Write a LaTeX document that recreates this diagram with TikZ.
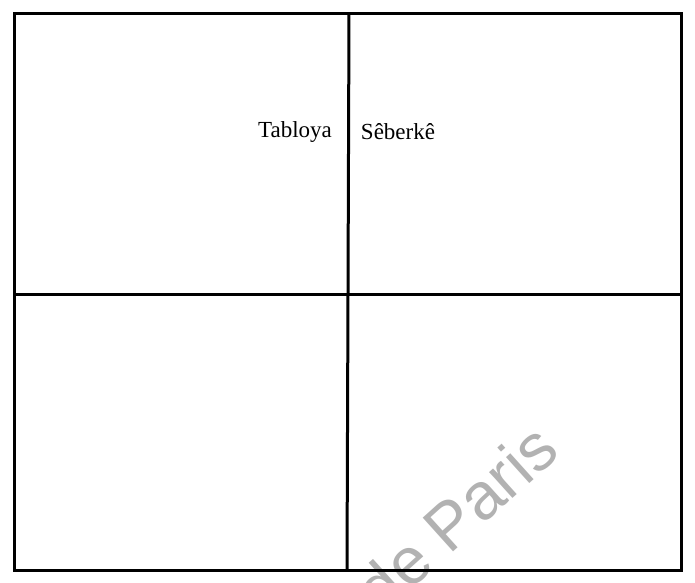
\documentclass[tikz,border=0pt]{standalone}
\usepackage{fontspec}
\setmainfont{Liberation Serif}
\newfontfamily\wmfont{Liberation Sans}
\begin{document}
\begin{tikzpicture}[x=1pt,y=-1pt,
  frame/.style={line width=3pt},
  lbl/.style={font=\fontsize{23}{27}\selectfont, inner sep=0pt},
  wm/.style={font=\wmfont\fontsize{66}{72}\selectfont, text=black!30, rotate=42, inner sep=0pt}]
\useasboundingbox (0,0) rectangle (695,582);
\begin{scope}
\clip (0,0) rectangle (695,582);
\node[wm] (wmark) at (456,518) {de Paris};
\end{scope}
\coordinate (tl) at (14,13);
\coordinate (tr) at (681,13);
\coordinate (bl) at (14,570);
\coordinate (br) at (681,570);
\coordinate (tm) at (349,13);
\coordinate (bm) at (347,570);
\coordinate (ml) at (14,294);
\coordinate (mr) at (681,294);
\draw[frame] (tl) -- (tr) -- (br) -- (bl) -- cycle;
\draw[frame] (tm) -- (bm);
\draw[frame] (ml) -- (mr);
\node[lbl] (tab) at (295,132) {Tabloya};
\node[lbl] (seb) at (398,132) {Sêberkê};
\end{tikzpicture}
\end{document}
